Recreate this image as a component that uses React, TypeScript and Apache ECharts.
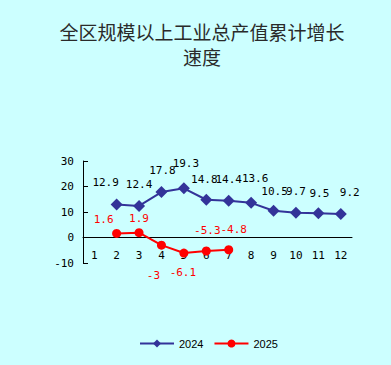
import React, { useEffect, useRef } from "react";
import * as echarts from "echarts";

const months = ["1", "2", "3", "4", "5", "6", "7", "8", "9", "10", "11", "12"];
const growth2024: (number | null)[] = [null, 12.9, 12.4, 17.8, 19.3, 14.8, 14.4, 13.6, 10.5, 9.7, 9.5, 9.2];
const growth2025: (number | null)[] = [null, 1.6, 1.9, -3, -6.1, -5.3, -4.8, null, null, null, null, null];
const yTicks = { min: -10, max: 30, interval: 10 };

// label offsets (style only, px relative to marker centre)
const off2024: [number, number][] = [
  [0, -21], [-11, -22], [0, -21], [1, -22], [2, -25], [-2, -20], [0, -21], [4, -24], [1, -19], [0, -21], [1, -20], [9, -22],
];
const off2025: [number, number][] = [
  [0, -14], [-13, -14], [0, -14], [-8, 30], [-1, 19], [1, -21], [5, -20], [0, 0], [0, 0], [0, 0], [0, 0], [0, 0],
];

const MONO = "'DejaVu Sans Mono', 'Liberation Mono', monospace";

export default function App() {
  const ref = useRef<HTMLDivElement>(null);
  useEffect(() => {
    if (!ref.current) return;
    const chart = echarts.init(ref.current, undefined, { renderer: "svg" });
    const mk = (vals: (number | null)[], offs: [number, number][], color: string) =>
      vals.map((v, i) =>
        v === null
          ? null
          : {
              value: v,
              label: {
                show: true,
                position: "inside",
                offset: offs[i],
                color,
                fontFamily: MONO,
                fontSize: 11,
                formatter: String(v),
              },
            }
      );
    const gridTop = 161;
    const gridBottom = 102;
    const plotH = 365 - gridTop - gridBottom;
    const zeroOffset = -(plotH * (0 - yTicks.min)) / (yTicks.max - yTicks.min);
    const titleStyle = {
      fontFamily: "'Noto Sans CJK SC', sans-serif",
      fontSize: 19,
      fontWeight: "normal",
      color: "#2a2a2a",
      lineHeight: 22,
    };
    chart.setOption({
      animation: false,
      backgroundColor: "#ccffff",
      title: {
        text: "全区规模以上工业总产值累计增长",
        subtext: "速度",
        left: 197,
        textAlign: "center",
        top: 15,
        itemGap: 3,
        textStyle: titleStyle,
        subtextStyle: titleStyle,
      },
      legend: {
        left: 134,
        top: 333,
        itemWidth: 34,
        itemHeight: 10,
        itemGap: 10,
        textStyle: { fontFamily: "'Liberation Sans', Arial, sans-serif", fontSize: 11, color: "#000" },
        data: ["2024", "2025"],
      },
      grid: { left: 83, right: 39, top: gridTop, bottom: gridBottom },
      xAxis: {
        type: "category",
        data: months,
        boundaryGap: true,
        position: "bottom",
        offset: zeroOffset,
        axisLine: { onZero: false, lineStyle: { color: "#000", width: 1 } },
        axisTick: { inside: true, length: 5, alignWithLabel: false, lineStyle: { color: "#000" } },
        axisLabel: { margin: 12, color: "#000", fontFamily: MONO, fontSize: 11 },
        splitLine: { show: false },
      },
      yAxis: {
        type: "value",
        min: yTicks.min,
        max: yTicks.max,
        interval: yTicks.interval,
        axisLine: { show: true, lineStyle: { color: "#000", width: 1 } },
        axisTick: { show: true, inside: true, length: 5, lineStyle: { color: "#000" } },
        axisLabel: { margin: 9, color: "#000", fontFamily: MONO, fontSize: 11 },
        splitLine: { show: false },
      },
      series: [
        {
          name: "2024",
          type: "line",
          data: mk(growth2024, off2024, "#000"),
          symbol: "diamond",
          symbolSize: 12,
          itemStyle: { color: "#333399" },
          lineStyle: { color: "#333399", width: 2 },
        },
        {
          name: "2025",
          type: "line",
          data: mk(growth2025, off2025, "#ff0000"),
          symbol: "circle",
          symbolSize: 9,
          itemStyle: { color: "#ff0000" },
          lineStyle: { color: "#ff0000", width: 2 },
        },
      ],
    });
    return () => chart.dispose();
  }, []);
  return (
    <div
      ref={ref}
      style={{ position: "fixed", left: 0, top: 0, width: 391, height: 365 }}
    />
  );
}
